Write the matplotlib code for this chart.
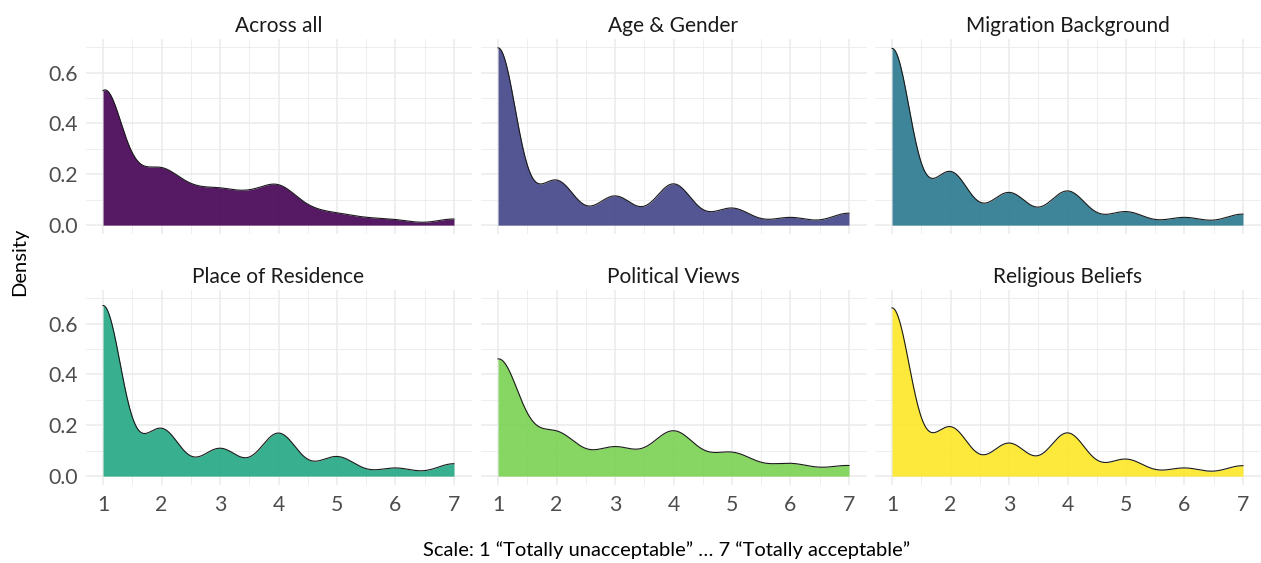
import matplotlib

matplotlib.use("Agg")
import matplotlib.pyplot as plt
import numpy as np
from matplotlib.ticker import MultipleLocator

plt.rcParams["font.family"] = ["Lato", "DejaVu Sans"]

# Response points: single items are on the 1..7 scale, the pooled score moves in half steps.
LIKERT_POINTS = [1, 2, 3, 4, 5, 6, 7]
MEAN_POINTS = [1, 1.5, 2, 2.5, 3, 3.5, 4, 4.5, 5, 5.5, 6, 6.5, 7]

# Share of answers (%) at each point.
ACROSS_ALL = [37.9, 8.9, 13.0, 7.3, 7.7, 6.2, 9.7, 3.2, 2.5, 1.4, 1.3, 0.1, 1.8]
AGE_GENDER = [53.5, 13.3, 8.7, 12.4, 5.1, 2.3, 3.6]
MIGRATION = [53.0, 15.8, 9.7, 10.2, 4.0, 2.3, 3.3]
RESIDENCE = [50.9, 14.0, 8.2, 12.8, 5.8, 2.4, 3.7]
POLITICAL = [41.6, 14.9, 9.8, 15.8, 8.1, 4.3, 3.7]
RELIGIOUS = [50.0, 14.4, 9.7, 12.8, 5.0, 2.4, 3.1]

PANEL_TITLES = [
    "Across all",
    "Age & Gender",
    "Migration Background",
    "Place of Residence",
    "Political Views",
    "Religious Beliefs",
]
PANEL_POINTS = [MEAN_POINTS] + [LIKERT_POINTS] * 5
PANEL_SHARES = [ACROSS_ALL, AGE_GENDER, MIGRATION, RESIDENCE, POLITICAL, RELIGIOUS]
BANDWIDTHS = [0.30, 0.31, 0.31, 0.31, 0.37, 0.31]

X_TICKS = [1, 2, 3, 4, 5, 6, 7]
Y_TICKS = [0.0, 0.2, 0.4, 0.6]


def gaussian_density(points, shares, bw, grid):
    """Weighted gaussian KDE evaluated on grid (like ggplot's geom_density)."""
    pts = np.asarray(points, dtype=float)
    w = np.asarray(shares, dtype=float)
    w = w / w.sum()
    z = (grid[:, None] - pts[None, :]) / bw
    return (w * np.exp(-0.5 * z**2)).sum(axis=1) / (bw * np.sqrt(2 * np.pi))


grid = np.linspace(1, 7, 512)
densities = [
    gaussian_density(p, s, bw, grid)
    for p, s, bw in zip(PANEL_POINTS, PANEL_SHARES, BANDWIDTHS)
]
colors = plt.get_cmap("viridis")(np.linspace(0, 1, len(PANEL_TITLES)))

ymax = max(d.max() for d in densities)
ylim = (-0.05 * ymax, 1.05 * ymax)
xlim = (0.7, 7.3)

W, H = 1261, 563
fig = plt.figure(figsize=(W / 100, H / 100), dpi=100)

lefts = [85.5, 480.5, 874.5]
tops = [39, 290]
pw, ph = 386, 195

for i, (title, dens, col) in enumerate(zip(PANEL_TITLES, densities, colors)):
    row, c = divmod(i, 3)
    ax = fig.add_axes([lefts[c] / W, 1 - (tops[row] + ph) / H, pw / W, ph / H])
    ax.set_xlim(*xlim)
    ax.set_ylim(*ylim)

    ax.xaxis.set_major_locator(MultipleLocator(1))
    ax.xaxis.set_minor_locator(MultipleLocator(0.5))
    ax.yaxis.set_major_locator(MultipleLocator(0.2))
    ax.yaxis.set_minor_locator(MultipleLocator(0.1))
    ax.grid(which="major", color="#EBEBEB", lw=1.1)
    ax.grid(which="minor", color="#EBEBEB", lw=0.6)
    ax.set_axisbelow(True)
    for s in ax.spines.values():
        s.set_visible(False)

    ax.fill_between(grid, dens, color=col, alpha=0.9, lw=0)
    ax.plot(grid, dens, color="#1A1A1A", lw=0.8)

    ax.set_xticks(X_TICKS)
    ax.set_yticks(Y_TICKS)
    ax.tick_params(which="both", length=0, labelsize=15.3, labelcolor="#4D4D4D")
    ax.tick_params(axis="x", pad=7.5)
    ax.tick_params(axis="y", pad=5.5)
    ax.yaxis.set_major_formatter(lambda v, _: f"{v:.1f}")
    if row == 0:
        ax.tick_params(axis="x", labelbottom=False)
    if c > 0:
        ax.tick_params(axis="y", labelleft=False)

    ax.set_title(title, fontsize=15, color="#1A1A1A", pad=5)

fig.text(20 / W, 1 - 262 / H, "Density", rotation=90, ha="center", va="center",
         fontsize=14.5, color="black")
fig.text(667 / W, 1 - 550 / H,
         "Scale: 1 \u201cTotally unacceptable\u201d \u2026 7 \u201cTotally acceptable\u201d",
         ha="center", va="center", fontsize=14.5, color="black")

fig.savefig("out.png", dpi=100)
